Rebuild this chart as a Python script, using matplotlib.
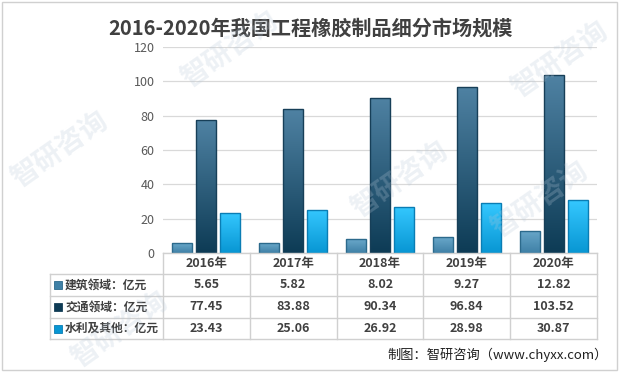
import numpy as np
import matplotlib.pyplot as plt
from matplotlib.patches import Rectangle
from matplotlib.lines import Line2D

plt.rcParams['font.family'] = ['Noto Sans CJK SC', 'DejaVu Sans']

# data
years = ['2016年', '2017年', '2018年', '2019年', '2020年']
series_names = ['建筑领域：亿元', '交通领域：亿元', '水利及其他：亿元']
jianzhu = [5.65, 5.82, 8.02, 9.27, 12.82]
jiaotong = [77.45, 83.88, 90.34, 96.84, 103.52]
shuili = [23.43, 25.06, 26.92, 28.98, 30.87]
yticks = [0, 20, 40, 60, 80, 100, 120]

series = [jianzhu, jiaotong, shuili]
# (top colour, bottom colour, edge)
styles = [('#6aa8ca', '#3f80a6', '#2c6a8c'),
          ('#4f82a3', '#0d3b55', '#173f58'),
          ('#35c8ff', '#0896d3', '#0a7db4')]
txt_col = '#404040'

W, H = 620, 373
fig = plt.figure(figsize=(W / 100, H / 100), dpi=100)

def fx(px):
    return px / W

def fy(py):
    return 1 - py / H

# outer border
fig.patches.append(Rectangle((fx(2), fy(370)), fx(615), 368 / H, transform=fig.transFigure,
                             fill=False, edgecolor='#d0d0d0', lw=1))

left, right, top, bottom = 163, 597, 47, 253
ax = fig.add_axes([fx(left), fy(bottom), fx(right - left), (bottom - top) / H])
ax.set_xlim(-0.5, 4.5)
ax.set_ylim(0, 120)
ax.set_yticks(yticks)
ax.set_xticks([])
ax.tick_params(axis='y', length=0, labelsize=9, labelcolor='#595959', pad=6)
for s in ax.spines.values():
    s.set_visible(False)
ax.grid(axis='y', color='#d9d9d9', lw=0.9)
ax.set_axisbelow(True)

x = np.arange(len(years))
width = 0.23
offsets = [-0.276, 0, 0.276]
grad = np.linspace(0, 1, 256).reshape(-1, 1)
for vals, off, (c_top, c_bot, c_edge) in zip(series, offsets, styles):
    bars = ax.bar(x + off, vals, width, color='none', edgecolor=c_edge, lw=1, zorder=3)
    cmap = plt.matplotlib.colors.LinearSegmentedColormap.from_list('g', [c_bot, c_top])
    for b in bars:
        x0, y0 = b.get_x(), b.get_y()
        im = ax.imshow(grad, extent=[x0, x0 + b.get_width(), y0, y0 + b.get_height()],
                       origin='lower', aspect='auto', cmap=cmap, zorder=2)
        im.set_clip_path(b)

ax.set_xlim(-0.5, 4.5)
ax.set_ylim(0, 120)

# table below the axes
col_edges = np.linspace(left, right, len(years) + 1)
row_edges = [253, 274, 296, 318, 339]
leg_left = 50
lc = '#d0d0d0'

def hline(py, x0, x1):
    fig.lines.append(Line2D([fx(x0), fx(x1)], [fy(py), fy(py)], transform=fig.transFigure,
                            color=lc, lw=1))

def vline(px, y0, y1):
    fig.lines.append(Line2D([fx(px), fx(px)], [fy(y0), fy(y1)], transform=fig.transFigure,
                            color=lc, lw=1))

hline(row_edges[0], left, right)
for py in row_edges[1:]:
    hline(py, leg_left, right)
vline(leg_left, row_edges[1], row_edges[-1])
for px in col_edges:
    vline(px, row_edges[0], row_edges[-1])

for i, yr in enumerate(years):
    cx = (col_edges[i] + col_edges[i + 1]) / 2
    cy = (row_edges[0] + row_edges[1]) / 2
    fig.text(fx(cx), fy(cy), yr, ha='center', va='center', fontsize=9,
             color=txt_col, fontweight='bold')

for r, (name, vals, st) in enumerate(zip(series_names, series, styles)):
    cy = (row_edges[r + 1] + row_edges[r + 2]) / 2
    fig.patches.append(Rectangle((fx(54), fy(cy + 4)), fx(8), 8 / H, transform=fig.transFigure,
                                 facecolor=st[1], edgecolor=st[2], lw=0.6))
    fig.text(fx(65), fy(cy), name, ha='left', va='center', fontsize=8.5,
             color=txt_col, fontweight='bold')
    for i, v in enumerate(vals):
        cx = (col_edges[i] + col_edges[i + 1]) / 2
        fig.text(fx(cx), fy(cy), f'{v:.2f}', ha='center', va='center', fontsize=9,
                 color=txt_col, fontweight='bold')

fig.text(0.5, fy(28), '2016-2020年我国工程橡胶制品细分市场规模', ha='center', va='center',
         fontsize=14.5, fontweight='bold', color=txt_col)
fig.text(fx(608), fy(355), '制图：智研咨询（www.chyxx.com）', ha='right', va='center',
         fontsize=9.5, color='#202020')

# faint watermarks
for wx, wy in [(60, 150), (230, 50), (400, 180), (560, 60), (120, 330), (540, 200)]:
    fig.text(fx(wx), fy(wy), '智研咨询', ha='center', va='center', fontsize=20,
             color='#b8c8d8', alpha=0.25, rotation=35, fontweight='bold')

fig.savefig('out.png', dpi=100)
